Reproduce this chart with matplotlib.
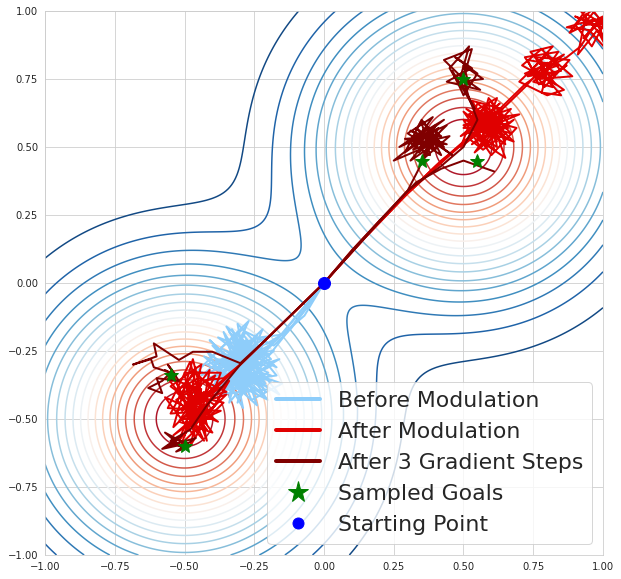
import numpy as np
import matplotlib
matplotlib.use("Agg")
import matplotlib.pyplot as plt
from matplotlib.lines import Line2D
import seaborn as sns

# goal distribution: two gaussian bumps
goal_centers = [(0.5, 0.5), (-0.5, -0.5)]
bump_width = 0.2          # 2 * sigma^2
contour_levels = np.arange(0.05, 1.0, 0.05)

start_point = (0.0, 0.0)
goals_x = [0.5, 0.35, 0.55, -0.55, -0.5]
goals_y = [0.75, 0.45, 0.45, -0.34, -0.6]

# before modulation (light blue), (x, y) points
before_paths = [
    [(0, 0), (-0.08, -0.1), (-0.16, -0.2), (-0.24, -0.27), (-0.3, -0.21), (-0.26, -0.34), (-0.36, -0.26),
     (-0.21, -0.37), (-0.33, -0.17), (-0.28, -0.31), (-0.4, -0.23), (-0.24, -0.41), (-0.35, -0.34),
     (-0.19, -0.28), (-0.31, -0.15), (-0.27, -0.38), (-0.42, -0.3), (-0.22, -0.23), (-0.34, -0.42),
     (-0.29, -0.19), (-0.17, -0.34), (-0.37, -0.37), (-0.3, -0.27), (-0.24, -0.45), (-0.43, -0.27),
     (-0.28, -0.35), (-0.2, -0.31), (-0.33, -0.24), (-0.26, -0.29)],
    [(0, 0), (-0.06, -0.09), (-0.12, -0.17), (-0.2, -0.22), (-0.28, -0.18), (-0.34, -0.28), (-0.23, -0.32),
     (-0.38, -0.2), (-0.25, -0.25), (-0.32, -0.36), (-0.18, -0.3), (-0.36, -0.39), (-0.27, -0.27),
     (-0.44, -0.34), (-0.3, -0.23), (-0.21, -0.4), (-0.35, -0.21), (-0.26, -0.43), (-0.15, -0.37),
     (-0.32, -0.31), (-0.29, -0.46), (-0.39, -0.28), (-0.24, -0.29), (-0.31, -0.18), (-0.22, -0.35),
     (-0.37, -0.33), (-0.3, -0.3)],
    [(0, 0), (-0.1, -0.14), (-0.2, -0.27), (-0.27, -0.23), (-0.22, -0.35), (-0.33, -0.3), (-0.28, -0.16),
     (-0.37, -0.24), (-0.2, -0.33), (-0.31, -0.39), (-0.4, -0.35), (-0.25, -0.27), (-0.34, -0.18),
     (-0.16, -0.41), (-0.29, -0.33), (-0.41, -0.21), (-0.23, -0.38), (-0.36, -0.31), (-0.21, -0.2),
     (-0.31, -0.44), (-0.27, -0.29), (-0.38, -0.42), (-0.18, -0.25), (-0.33, -0.26), (-0.26, -0.36),
     (-0.3, -0.31)],
    [(0, 0), (-0.05, -0.07), (-0.13, -0.18), (-0.18, -0.23), (-0.25, -0.2), (-0.3, -0.33), (-0.19, -0.36),
     (-0.35, -0.3), (-0.27, -0.22), (-0.4, -0.38), (-0.23, -0.3), (-0.32, -0.2), (-0.28, -0.41),
     (-0.37, -0.26), (-0.2, -0.43), (-0.34, -0.36), (-0.29, -0.25), (-0.17, -0.31), (-0.35, -0.16),
     (-0.26, -0.32), (-0.31, -0.28)],
    [(0, 0), (-0.09, -0.11), (-0.17, -0.21), (-0.25, -0.24), (-0.22, -0.17), (-0.31, -0.26), (-0.38, -0.31),
     (-0.27, -0.4), (-0.33, -0.2), (-0.2, -0.26), (-0.36, -0.35), (-0.42, -0.25), (-0.29, -0.36),
     (-0.24, -0.19), (-0.39, -0.41), (-0.19, -0.39), (-0.34, -0.29), (-0.27, -0.14), (-0.45, -0.32),
     (-0.3, -0.42), (-0.22, -0.3), (-0.35, -0.25), (-0.28, -0.32), (-0.16, -0.28), (-0.33, -0.38),
     (-0.29, -0.27)],
    [(0, 0), (-0.07, -0.12), (-0.15, -0.19), (-0.23, -0.2), (-0.32, -0.23), (-0.26, -0.37), (-0.4, -0.27),
     (-0.21, -0.42), (-0.36, -0.18), (-0.3, -0.35), (-0.18, -0.22), (-0.43, -0.36), (-0.25, -0.33),
     (-0.34, -0.44), (-0.28, -0.21), (-0.38, -0.33), (-0.23, -0.27), (-0.32, -0.39), (-0.19, -0.34),
     (-0.37, -0.29), (-0.27, -0.26)],
]

# after modulation (red)
after_paths = [
    [(0, 0), (0.1, 0.12), (0.2, 0.23), (0.3, 0.33), (0.4, 0.43), (0.5, 0.52), (0.56, 0.57), (0.62, 0.63),
     (0.51, 0.55), (0.66, 0.57), (0.55, 0.66), (0.49, 0.5), (0.64, 0.62), (0.54, 0.48), (0.68, 0.6),
     (0.57, 0.53), (0.5, 0.63), (0.65, 0.51), (0.6, 0.67), (0.52, 0.59), (0.6, 0.47), (0.69, 0.57),
     (0.55, 0.61), (0.62, 0.52), (0.53, 0.67), (0.64, 0.64), (0.56, 0.5), (0.5, 0.6), (0.67, 0.55),
     (0.58, 0.65), (0.61, 0.49), (0.52, 0.56), (0.63, 0.66), (0.49, 0.54), (0.6, 0.6), (0.65, 0.46),
     (0.55, 0.53), (0.59, 0.68), (0.66, 0.59), (0.53, 0.51), (0.61, 0.58), (0.51, 0.64), (0.63, 0.55),
     (0.57, 0.6), (0.7, 0.62), (0.56, 0.56), (0.6, 0.54), (0.54, 0.63), (0.64, 0.6), (0.58, 0.5),
     (0.52, 0.62), (0.66, 0.53), (0.59, 0.57)],
    [(0, 0), (0.12, 0.14), (0.25, 0.28), (0.38, 0.41), (0.48, 0.5), (0.55, 0.55), (0.6, 0.61), (0.53, 0.58),
     (0.62, 0.56), (0.57, 0.64), (0.51, 0.52), (0.63, 0.6), (0.58, 0.52), (0.55, 0.62), (0.64, 0.57),
     (0.5, 0.57), (0.59, 0.66), (0.62, 0.5), (0.54, 0.55), (0.6, 0.63), (0.66, 0.61), (0.56, 0.59),
     (0.61, 0.55), (0.53, 0.6), (0.58, 0.57)],
    [(0, 0), (0.14, 0.16), (0.28, 0.31), (0.42, 0.45), (0.52, 0.53), (0.57, 0.49), (0.65, 0.55),
     (0.54, 0.64), (0.61, 0.6), (0.5, 0.58), (0.67, 0.64), (0.56, 0.52), (0.62, 0.68), (0.52, 0.62),
     (0.6, 0.55), (0.68, 0.52), (0.58, 0.62), (0.63, 0.58)],
    [(0, 0), (0.15, 0.17), (0.3, 0.33), (0.45, 0.47), (0.55, 0.56), (0.65, 0.65), (0.72, 0.72), (0.8, 0.81),
     (0.73, 0.76), (0.85, 0.78), (0.78, 0.86), (0.71, 0.8), (0.83, 0.73), (0.76, 0.83), (0.88, 0.82),
     (0.79, 0.72), (0.72, 0.83), (0.84, 0.85), (0.77, 0.75), (0.89, 0.76), (0.8, 0.84), (0.7, 0.74),
     (0.8, 0.69), (0.86, 0.71), (0.75, 0.79), (0.82, 0.87), (0.74, 0.85), (0.81, 0.76), (0.87, 0.8),
     (0.77, 0.73), (0.73, 0.82), (0.84, 0.8), (0.78, 0.78), (0.82, 0.72), (0.75, 0.74), (0.86, 0.84),
     (0.79, 0.8), (0.72, 0.77), (0.83, 0.77), (0.77, 0.82), (0.8, 0.75), (0.85, 0.69), (0.78, 0.7),
     (0.81, 0.81)],
    [(0, 0), (0.15, 0.17), (0.3, 0.33), (0.45, 0.47), (0.6, 0.61), (0.72, 0.73), (0.8, 0.79), (0.87, 0.83),
     (0.92, 0.87), (0.97, 0.95), (0.9, 0.98), (1.02, 0.93), (0.95, 1.02), (0.88, 0.92), (1.0, 0.98),
     (0.93, 0.9), (1.03, 1.0), (0.96, 0.87), (0.9, 0.95), (0.99, 1.03), (0.92, 1.0), (1.01, 0.89),
     (0.97, 0.97), (0.87, 0.94), (0.95, 0.93), (1.02, 0.85), (0.98, 0.93), (0.91, 0.84), (0.94, 0.99),
     (1.0, 0.95), (0.93, 0.95), (0.97, 1.0)],
    [(0, 0), (-0.3, -0.3), (-0.38, -0.38), (-0.42, -0.42), (-0.49, -0.37), (-0.44, -0.51),
     (-0.53, -0.43), (-0.39, -0.34), (-0.5, -0.56), (-0.46, -0.31), (-0.55, -0.48), (-0.41, -0.47),
     (-0.49, -0.41), (-0.36, -0.44), (-0.51, -0.59), (-0.44, -0.39), (-0.56, -0.35), (-0.42, -0.54),
     (-0.48, -0.47), (-0.38, -0.37), (-0.54, -0.53), (-0.47, -0.28), (-0.43, -0.45), (-0.51, -0.5),
     (-0.4, -0.5), (-0.57, -0.42), (-0.46, -0.57), (-0.5, -0.44), (-0.35, -0.4), (-0.45, -0.35),
     (-0.52, -0.39), (-0.43, -0.58), (-0.48, -0.52), (-0.41, -0.43)],
    [(0, 0), (-0.3, -0.3), (-0.36, -0.35), (-0.45, -0.36), (-0.52, -0.42), (-0.43, -0.49),
     (-0.37, -0.33), (-0.5, -0.33), (-0.47, -0.53), (-0.35, -0.41), (-0.53, -0.47), (-0.45, -0.43),
     (-0.42, -0.58), (-0.49, -0.38), (-0.39, -0.45), (-0.54, -0.56), (-0.46, -0.49), (-0.34, -0.36),
     (-0.48, -0.6), (-0.43, -0.4), (-0.5, -0.46), (-0.38, -0.51), (-0.55, -0.38), (-0.44, -0.3),
     (-0.47, -0.45), (-0.4, -0.55), (-0.52, -0.51), (-0.46, -0.41)],
    [(0, 0), (-0.3, -0.3), (-0.4, -0.39), (-0.46, -0.33), (-0.53, -0.4),
     (-0.42, -0.52), (-0.48, -0.29), (-0.56, -0.46), (-0.37, -0.47), (-0.5, -0.53), (-0.44, -0.37),
     (-0.52, -0.58), (-0.39, -0.41), (-0.47, -0.5), (-0.54, -0.34), (-0.45, -0.55), (-0.41, -0.32),
     (-0.49, -0.43), (-0.36, -0.38), (-0.51, -0.47), (-0.44, -0.42)],
]

# after 3 gradient steps (dark red)
adapted_paths = [
    [(0, 0), (0.1, 0.12), (0.2, 0.23), (0.3, 0.34), (0.34, 0.42), (0.38, 0.53), (0.31, 0.56), (0.43, 0.5),
     (0.35, 0.6), (0.29, 0.48), (0.41, 0.57), (0.36, 0.46), (0.45, 0.54), (0.32, 0.51), (0.39, 0.61),
     (0.3, 0.55), (0.42, 0.47), (0.37, 0.57), (0.27, 0.5), (0.44, 0.58), (0.34, 0.48), (0.39, 0.55),
     (0.31, 0.45), (0.41, 0.52), (0.25, 0.45), (0.36, 0.54), (0.46, 0.47), (0.33, 0.57), (0.4, 0.49),
     (0.34, 0.53), (0.43, 0.6), (0.3, 0.52), (0.38, 0.47), (0.35, 0.59), (0.42, 0.54), (0.29, 0.53),
     (0.37, 0.5), (0.4, 0.58), (0.32, 0.49), (0.39, 0.52), (0.33, 0.55), (0.44, 0.51), (0.36, 0.52)],
    [(0, 0), (0.15, 0.17), (0.3, 0.34), (0.42, 0.43), (0.5, 0.5), (0.55, 0.6), (0.52, 0.68), (0.5, 0.75),
     (0.43, 0.82), (0.53, 0.86), (0.49, 0.72), (0.45, 0.79), (0.52, 0.87), (0.49, 0.76), (0.56, 0.71),
     (0.44, 0.74), (0.53, 0.79), (0.47, 0.83), (0.55, 0.77), (0.5, 0.69), (0.46, 0.78), (0.54, 0.64),
     (0.49, 0.74), (0.57, 0.75), (0.5, 0.8), (0.52, 0.73), (0.47, 0.76), (0.51, 0.78)],
    [(0, 0), (0.2, 0.23), (0.33, 0.37), (0.42, 0.42), (0.5, 0.45), (0.61, 0.41)],
    [(0, 0), (-0.1, -0.1), (-0.2, -0.2), (-0.3, -0.295), (-0.4, -0.253), (-0.47, -0.253), (-0.52, -0.283),
     (-0.61, -0.222), (-0.6, -0.27), (-0.685, -0.3), (-0.62, -0.28), (-0.61, -0.31), (-0.55, -0.33),
     (-0.58, -0.36), (-0.63, -0.386), (-0.58, -0.405), (-0.6, -0.35), (-0.52, -0.36), (-0.56, -0.3),
     (-0.53, -0.34), (-0.57, -0.32)],
    [(0, 0), (-0.3, -0.3), (-0.42, -0.45), (-0.48, -0.54), (-0.55, -0.58), (-0.5, -0.61),
     (-0.57, -0.55), (-0.48, -0.6), (-0.53, -0.62), (-0.46, -0.57), (-0.56, -0.6), (-0.51, -0.56),
     (-0.58, -0.61), (-0.49, -0.59), (-0.54, -0.57)],
]

before_color = "#8ecdfa"
after_color = "#e00000"
adapted_color = "#800000"

sns.set_style("whitegrid")
plt.rcParams["font.family"] = ["DejaVu Sans"]

fig = plt.figure(figsize=(621 / 72, 579 / 72), dpi=72)
ax = fig.add_axes([0.0725, 0.0415, 0.8985, 0.9395])

xs = np.linspace(-1, 1, 300)
gx, gy = np.meshgrid(xs, xs)
field = np.zeros_like(gx)
for cx, cy in goal_centers:
    field += np.exp(-((gx - cx) ** 2 + (gy - cy) ** 2) / bump_width)
ax.contour(gx, gy, field, levels=contour_levels, cmap="RdBu_r", vmin=0.0, vmax=1.05,
           linewidths=1.5)

for path in before_paths:
    px, py = np.array(path).T
    ax.plot(px, py, color=before_color, lw=2)
for path in after_paths:
    px, py = np.array(path).T
    ax.plot(px, py, color=after_color, lw=2)
for path in adapted_paths:
    px, py = np.array(path).T
    ax.plot(px, py, color=adapted_color, lw=2)

ax.plot(goals_x, goals_y, "*", color="green", markersize=14, linestyle="none")
ax.plot([start_point[0]], [start_point[1]], "o", color="blue", markersize=12)

ax.set_xlim(-1, 1)
ax.set_ylim(-1, 1)
ax.tick_params(labelsize=10)

handles = [
    Line2D([], [], color=before_color, lw=4),
    Line2D([], [], color=after_color, lw=4),
    Line2D([], [], color=adapted_color, lw=4),
    Line2D([], [], color="green", marker="*", markersize=22, linestyle="none"),
    Line2D([], [], color="blue", marker="o", markersize=11, linestyle="none"),
]
labels = ["Before Modulation", "After Modulation", "After 3 Gradient Steps",
          "Sampled Goals", "Starting Point"]
ax.legend(handles, labels, loc="lower right", fontsize=22)

fig.savefig("out.png", dpi=72)
